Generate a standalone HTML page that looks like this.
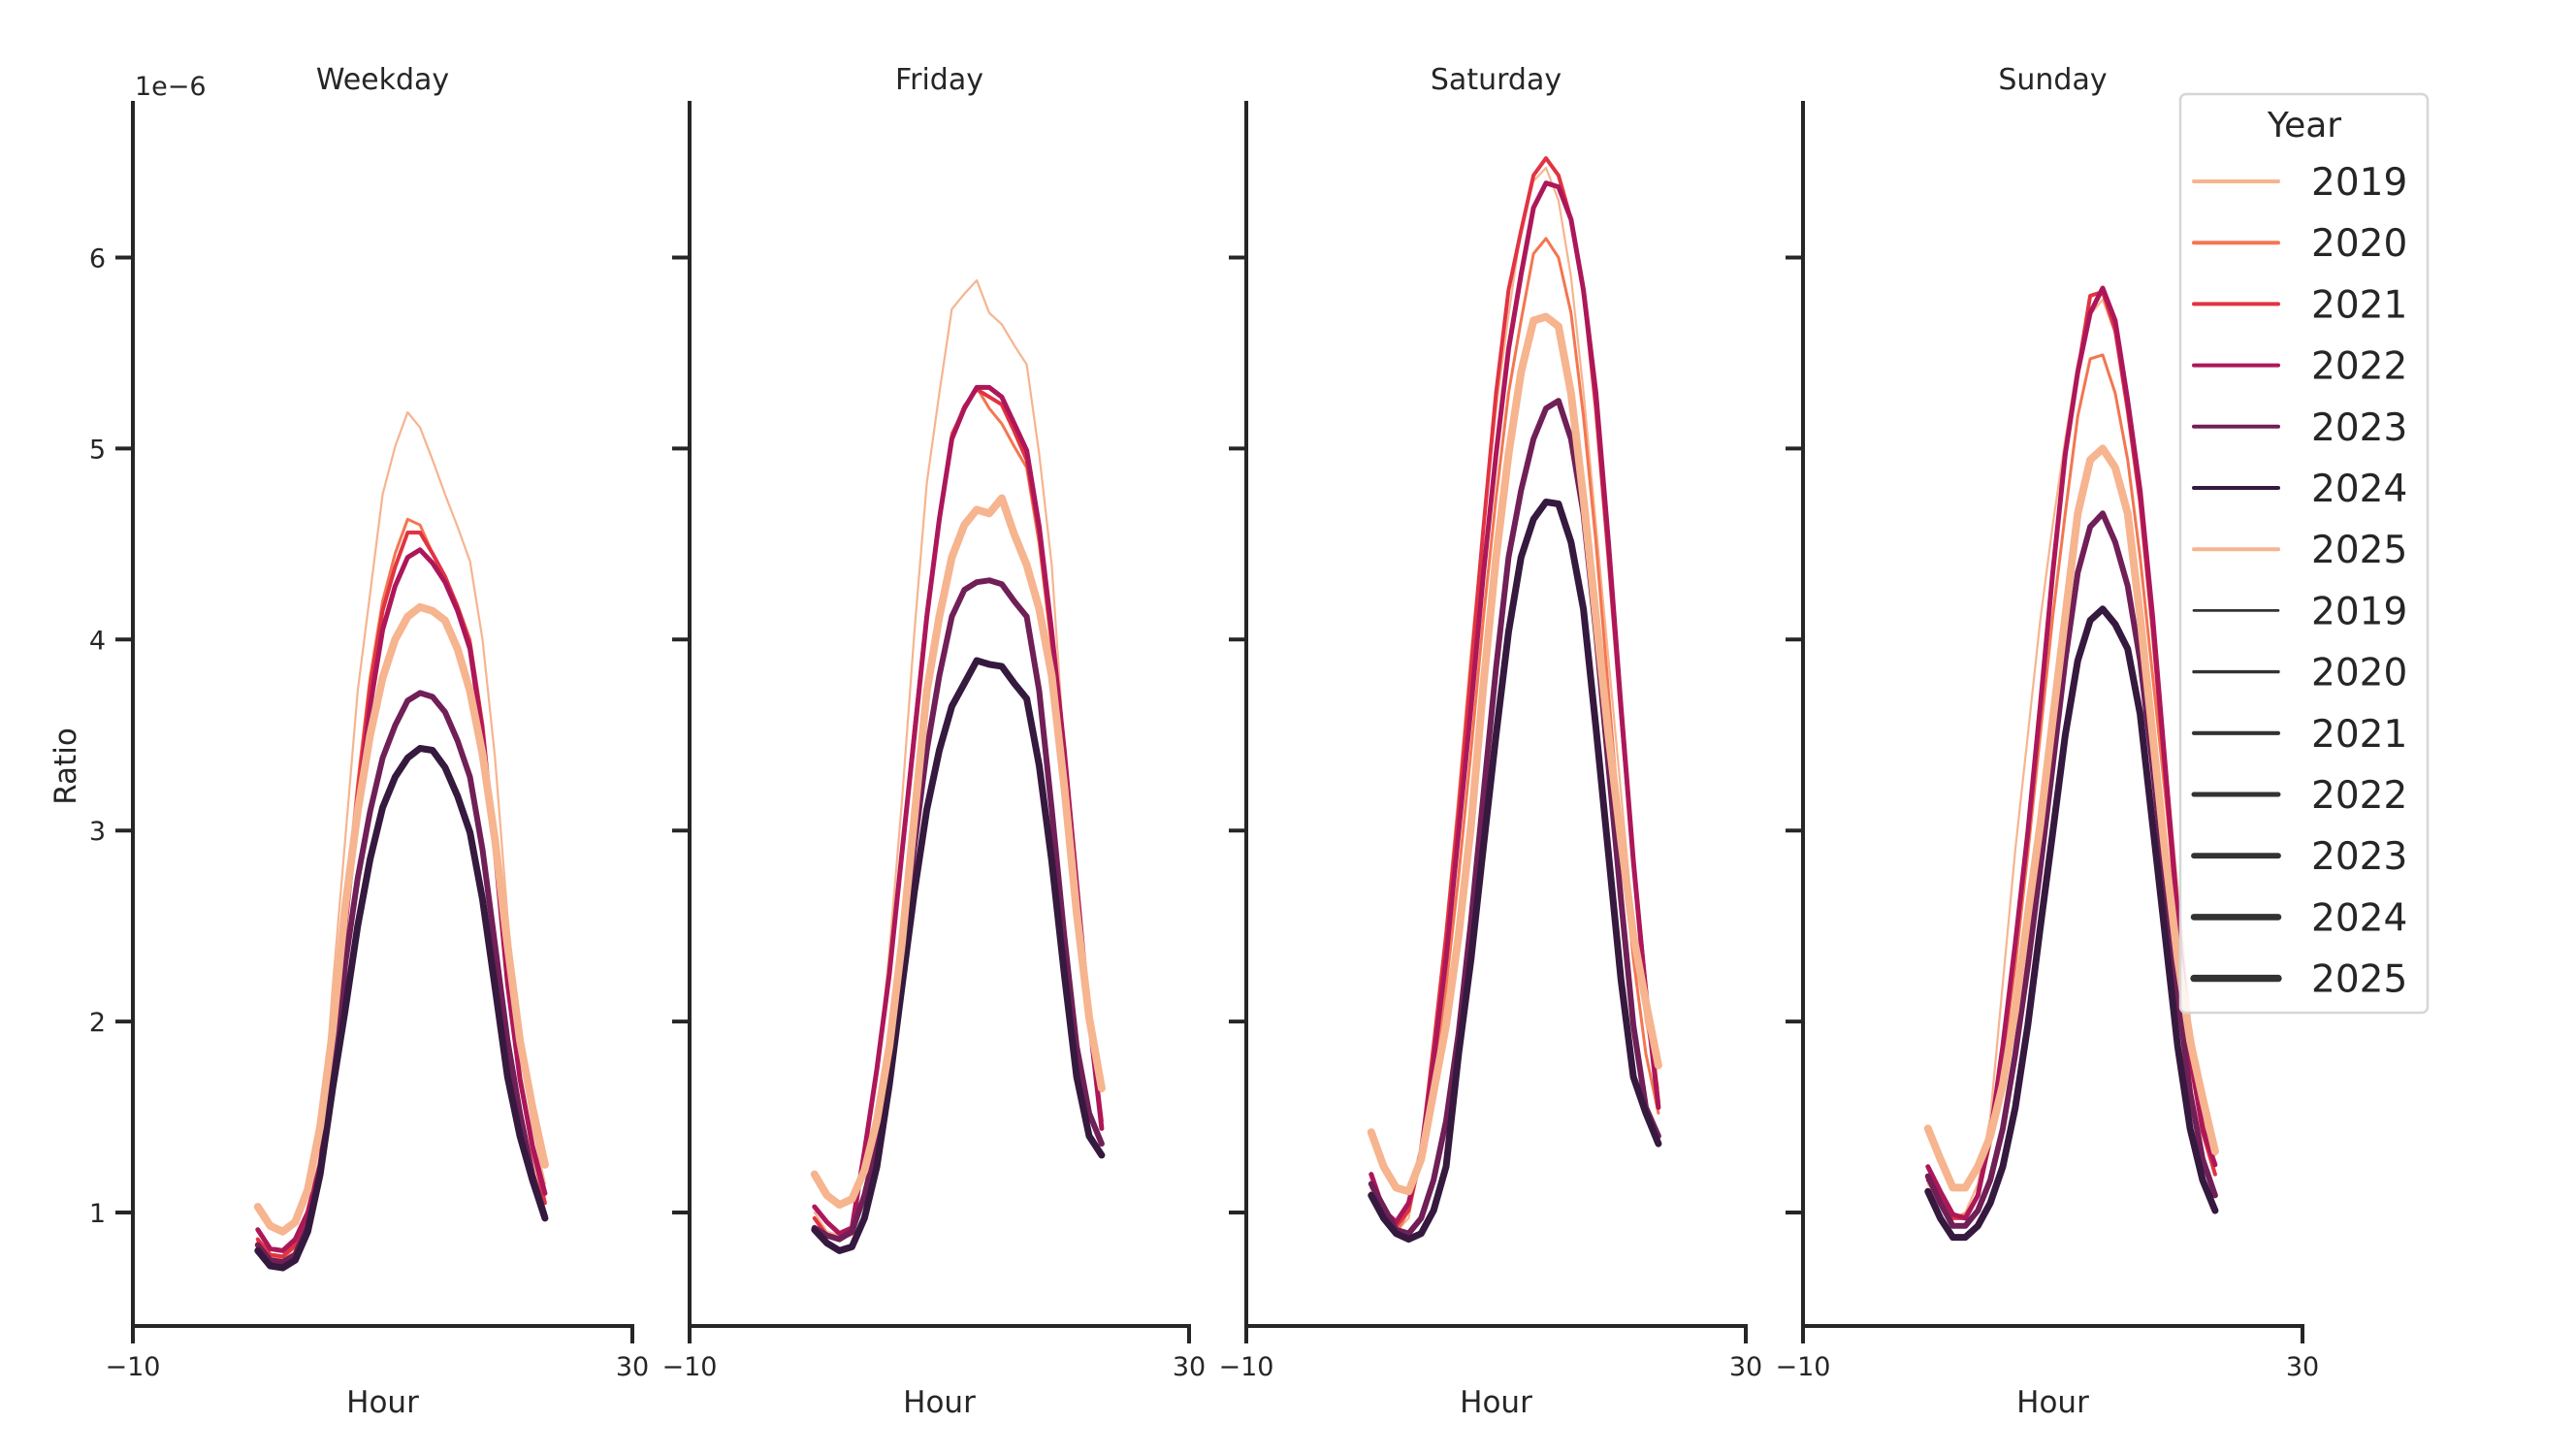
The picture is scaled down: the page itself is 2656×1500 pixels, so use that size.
<!DOCTYPE html>
<html><head><meta charset="utf-8"><style>
html,body{margin:0;padding:0;background:#fff}
svg{display:block;font-family:"DejaVu Sans","Liberation Sans",sans-serif}
</style></head><body>
<svg id="chart" width="2656" height="1500" viewBox="0 0 2656 1500"></svg>
<script>
const panels = ["Weekday","Friday","Saturday","Sunday"];
const years = ["2019","2020","2021","2022","2023","2024","2025"];
const hours = [0,1,2,3,4,5,6,7,8,9,10,11,12,13,14,15,16,17,18,19,20,21,22,23];
const yTicks = [1,2,3,4,5,6];
const xTicks = [-10,30];
const weekday2019 = [0.85,0.77,0.76,0.82,1.0,1.3,2.18,2.95,3.73,4.24,4.76,5.01,5.19,5.11,4.94,4.76,4.59,4.41,4.0,3.38,2.55,1.9,1.45,1.15];
const weekday2020 = [0.85,0.77,0.76,0.82,0.97,1.25,1.82,2.6,3.25,3.8,4.2,4.45,4.63,4.6,4.45,4.33,4.18,4.0,3.55,2.9,2.2,1.7,1.32,1.05];
const weekday2021 = [0.86,0.78,0.77,0.83,0.98,1.25,1.8,2.55,3.2,3.75,4.15,4.38,4.56,4.56,4.45,4.33,4.17,3.98,3.55,2.9,2.2,1.7,1.33,1.05];
const weekday2022 = [0.91,0.81,0.80,0.86,1.0,1.25,1.8,2.5,3.1,3.65,4.05,4.28,4.43,4.47,4.4,4.3,4.15,3.95,3.5,2.9,2.2,1.7,1.35,1.1];
const weekday2023 = [0.83,0.75,0.74,0.78,0.93,1.2,1.7,2.3,2.75,3.1,3.38,3.55,3.68,3.72,3.7,3.62,3.47,3.28,2.9,2.4,1.9,1.52,1.2,0.98];
const weekday2024 = [0.80,0.72,0.71,0.75,0.90,1.2,1.65,2.06,2.5,2.85,3.12,3.28,3.38,3.43,3.42,3.33,3.18,2.99,2.64,2.18,1.71,1.4,1.17,0.97];
const weekday2025 = [1.03,0.93,0.9,0.95,1.12,1.45,1.95,2.6,3.1,3.5,3.8,4.0,4.12,4.17,4.15,4.1,3.95,3.73,3.4,2.95,2.4,1.9,1.55,1.25];
const friday2019 = [1.0,0.9,0.88,0.93,1.28,1.71,2.37,3.15,4.04,4.82,5.29,5.73,5.81,5.88,5.71,5.65,5.54,5.44,4.97,4.39,3.42,2.6,1.95,1.5];
const friday2020 = [0.97,0.88,0.86,0.89,1.32,1.75,2.25,2.9,3.55,4.15,4.65,5.08,5.21,5.32,5.21,5.13,5.01,4.9,4.5,3.95,3.35,2.7,2.0,1.47];
const friday2021 = [0.97,0.88,0.86,0.89,1.32,1.75,2.25,2.88,3.52,4.13,4.64,5.06,5.22,5.31,5.27,5.23,5.09,4.94,4.55,4.0,3.4,2.72,2.02,1.48];
const friday2022 = [1.03,0.95,0.89,0.92,1.32,1.75,2.25,2.88,3.5,4.12,4.63,5.05,5.21,5.32,5.32,5.27,5.13,4.99,4.59,4.04,3.42,2.72,2.02,1.44];
const friday2023 = [0.92,0.88,0.86,0.9,1.09,1.36,1.83,2.37,2.92,3.42,3.81,4.12,4.26,4.3,4.31,4.29,4.2,4.12,3.73,3.11,2.45,1.87,1.52,1.36];
const friday2024 = [0.91,0.84,0.80,0.82,0.97,1.24,1.67,2.18,2.68,3.11,3.42,3.65,3.77,3.89,3.87,3.86,3.77,3.69,3.34,2.84,2.25,1.71,1.4,1.30];
const friday2025 = [1.2,1.09,1.04,1.07,1.22,1.48,1.87,2.41,3.07,3.73,4.12,4.43,4.6,4.68,4.66,4.74,4.55,4.39,4.16,3.81,3.23,2.57,2.02,1.65];
const saturday2019 = [1.1,1.0,0.9,0.97,1.3,1.8,2.5,3.2,3.95,4.6,5.2,5.7,6.15,6.4,6.47,6.3,5.9,5.3,4.6,3.9,3.2,2.5,2.0,1.65];
const saturday2020 = [1.13,1.01,0.89,1.01,1.28,1.71,2.18,2.76,3.42,4.12,4.74,5.29,5.67,6.02,6.1,6.0,5.71,5.17,4.51,3.73,2.95,2.33,1.83,1.52];
const saturday2021 = [1.1,1.01,0.93,1.01,1.32,1.87,2.45,3.11,3.85,4.59,5.29,5.83,6.14,6.43,6.52,6.43,6.2,5.83,5.21,4.43,3.61,2.84,2.18,1.58];
const saturday2022 = [1.2,1.01,0.95,1.05,1.32,1.79,2.33,2.99,3.65,4.35,4.97,5.52,5.91,6.26,6.39,6.37,6.2,5.83,5.29,4.51,3.65,2.84,2.14,1.55];
const saturday2023 = [1.15,1.03,0.91,0.89,0.97,1.17,1.48,1.94,2.53,3.19,3.85,4.43,4.78,5.05,5.21,5.25,5.05,4.66,4.04,3.34,2.64,1.98,1.55,1.4];
const saturday2024 = [1.09,0.97,0.89,0.86,0.89,1.01,1.24,1.83,2.33,2.92,3.5,4.04,4.43,4.63,4.72,4.71,4.51,4.16,3.54,2.88,2.22,1.71,1.52,1.36];
const saturday2025 = [1.42,1.24,1.13,1.11,1.28,1.63,1.98,2.45,3.03,3.77,4.43,4.97,5.4,5.67,5.69,5.64,5.29,4.74,4.12,3.5,2.95,2.45,2.1,1.77];
const sunday2019 = [1.15,1.05,0.97,1.0,1.15,1.5,2.2,2.9,3.5,4.1,4.6,5.05,5.45,5.7,5.78,5.6,5.2,4.7,4.1,3.4,2.7,2.0,1.6,1.3];
const sunday2020 = [1.17,1.05,0.97,0.99,1.09,1.36,1.79,2.29,2.88,3.5,4.12,4.66,5.17,5.47,5.49,5.29,4.94,4.43,3.81,3.19,2.56,1.94,1.48,1.2];
const sunday2021 = [1.17,1.07,0.97,0.97,1.09,1.4,1.87,2.41,2.99,3.65,4.35,4.97,5.4,5.8,5.82,5.62,5.2,4.72,4.05,3.28,2.5,1.8,1.42,1.2];
const sunday2022 = [1.24,1.11,0.99,0.97,1.09,1.4,1.87,2.41,2.99,3.65,4.35,4.97,5.4,5.71,5.84,5.67,5.25,4.78,4.12,3.34,2.56,1.83,1.44,1.25];
const sunday2023 = [1.19,1.05,0.93,0.93,1.01,1.17,1.44,1.83,2.29,2.8,3.34,3.89,4.35,4.59,4.66,4.51,4.28,3.89,3.34,2.72,2.14,1.63,1.28,1.09];
const sunday2024 = [1.11,0.97,0.87,0.87,0.93,1.05,1.24,1.55,1.98,2.49,2.99,3.5,3.89,4.1,4.16,4.08,3.95,3.61,3.03,2.45,1.87,1.44,1.17,1.01];
const sunday2025 = [1.44,1.28,1.13,1.13,1.24,1.4,1.67,2.06,2.56,3.03,3.58,4.12,4.66,4.94,5.0,4.9,4.66,4.12,3.5,2.88,2.33,1.9,1.6,1.32];
const seriesByPanel = [
  [weekday2019,weekday2020,weekday2021,weekday2022,weekday2023,weekday2024,weekday2025],
  [friday2019,friday2020,friday2021,friday2022,friday2023,friday2024,friday2025],
  [saturday2019,saturday2020,saturday2021,saturday2022,saturday2023,saturday2024,saturday2025],
  [sunday2019,sunday2020,sunday2021,sunday2022,sunday2023,sunday2024,sunday2025]
];

const colors = ["#f6b48f","#f37651","#e13342","#ad1759","#701f57","#35193e","#f6b48f"];
const widths = [2.2,3,4,5,6,7,8];
const NS = "http://www.w3.org/2000/svg";
const svg = document.getElementById("chart");
const PL = [137,711,1285,1859], PW = 515, TOP = 104, BOT = 1367;
function xs(p, h){ return PL[p] + (h + 10) / 40 * PW; }
function ys(v){ return 1250 - (v - 1) * 196.9; }
function mk(tag, attrs, parent){
  const e = document.createElementNS(NS, tag);
  for (const k in attrs) e.setAttribute(k, attrs[k]);
  (parent || svg).appendChild(e);
  return e;
}
const INK = "#262626";
panels.forEach((name, p) => {
  const g = mk("g", {});
  
  
  const L = PL[p];
  const title = mk("text", {x: L + PW/2, y: 92, "text-anchor": "middle", "font-size": 30, fill: INK}, g);
  title.textContent = name;
  
  
  const ya = mk("line", {x1: L, x2: L, y1: TOP, y2: BOT, stroke: INK, "stroke-width": 4}, g);
  
  
  const xa = mk("line", {x1: L - 2, x2: L + PW + 2, y1: BOT, y2: BOT, stroke: INK, "stroke-width": 4}, g);
  
  
  yTicks.forEach(t => {
    const tk = mk("line", {x1: L - 18, x2: L, y1: ys(t), y2: ys(t), stroke: INK, "stroke-width": 4}, g);
    
    
    if (p === 0) {
      const tl = mk("text", {x: L - 28, y: ys(t) + 10, "text-anchor": "end", "font-size": 27, fill: INK}, g);
      tl.textContent = String(t);
      
      
    }
  });
  xTicks.forEach(t => {
    const tk = mk("line", {x1: xs(p, t), x2: xs(p, t), y1: BOT, y2: BOT + 18, stroke: INK, "stroke-width": 4}, g);
    
    
    const tl = mk("text", {x: xs(p, t), y: BOT + 51, "text-anchor": "middle", "font-size": 27, fill: INK}, g);
    tl.textContent = t < 0 ? "\u2212" + Math.abs(t) : String(t);
    
    
  });
  const xl = mk("text", {x: L + PW/2, y: 1472 - 16, "text-anchor": "middle", "font-size": 31, fill: INK}, g);
  xl.textContent = "Hour";
  
  
  seriesByPanel[p].forEach((vals, i) => {
    const d = vals.map((v, k) => (k ? "L" : "M") + xs(p, hours[k]).toFixed(1) + " " + ys(v).toFixed(1)).join(" ");
    const path = mk("path", {d: d, fill: "none", stroke: colors[i], "stroke-width": widths[i], "stroke-linejoin": "round", "stroke-linecap": "round"}, g);
    
    
  });
});
const yl = mk("text", {x: 0, y: 0, "text-anchor": "middle", "font-size": 31, fill: INK, transform: "translate(78 790) rotate(-90)"});
yl.textContent = "Ratio";


const off = mk("text", {x: 139, y: 98, "font-size": 27, fill: INK});
off.textContent = "1e\u22126";



const lg = mk("g", {});


mk("rect", {x: 2248, y: 97, width: 255, height: 947, rx: 6, fill: "#fff", "fill-opacity": 0.85, stroke: "#d6d6d6", "stroke-width": 2.5}, lg);
const lt = mk("text", {x: 2376, y: 141, "text-anchor": "middle", "font-size": 36, fill: INK}, lg);
lt.textContent = "Year";


const entries = years.concat(years);
entries.forEach((yr, i) => {
  const y = 187 + i * 63.2;
  const isHue = i < 7;
  const ln = mk("line", {x1: 2262, x2: 2349, y1: y, y2: y, stroke: isHue ? colors[i] : "#333", "stroke-width": isHue ? 4 : widths[i - 7] * 0.8 + 1, "stroke-linecap": "round"}, lg);
  
  
  const tx = mk("text", {x: 2383, y: y + 14, "font-size": 39, fill: INK}, lg);
  tx.textContent = yr;
  
  
});
</script>
</body></html>
